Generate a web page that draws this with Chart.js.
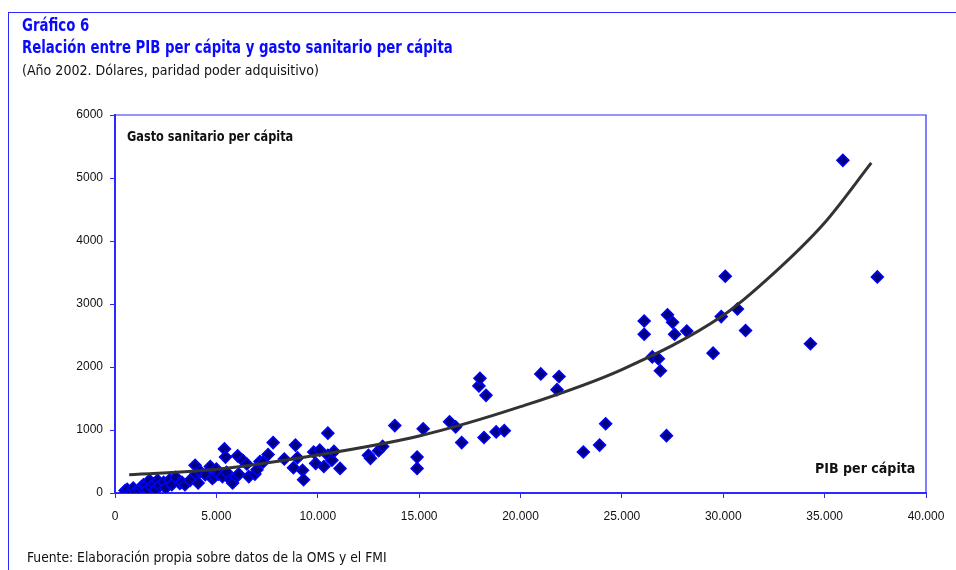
<!DOCTYPE html>
<html>
<head>
<meta charset="utf-8">
<script src="https://cdn.jsdelivr.net/npm/chart.js@4.4.1/dist/chart.umd.min.js"></script>
<style>
  html, body { margin: 0; padding: 0; background: #fff; }
  #wrap { position: relative; width: 956px; height: 570px; overflow: hidden; }
  #frameTop { position: absolute; left: 8px; top: 12px; width: 948px; height: 0; border-top: 1.5px solid #2a2aff; }
  #frameLeft { position: absolute; left: 8px; top: 12px; width: 0; height: 558px; border-left: 1.5px solid #2a2aff; }
  .t { position: absolute; white-space: nowrap; font-family: "Liberation Sans Narrow", "DejaVu Sans Condensed", sans-serif; transform-origin: 0 0; }
  #t1 { left: 22px; top: 15px; font-size: 17px; font-weight: bold; color: #0a0aff; transform: scaleX(0.87); }
  #t2 { left: 22px; top: 37px; font-size: 17px; font-weight: bold; color: #0a0aff; transform: scaleX(0.87); }
  #t3 { left: 22px; top: 62px; font-size: 14.5px; color: #111; transform: scaleX(0.97); }
  #ylab { left: 127px; top: 128px; font-size: 14px; font-weight: bold; color: #111; transform: scaleX(0.9); }
  #xlab { left: 815px; top: 460px; font-size: 14.5px; font-weight: bold; color: #111; transform: scaleX(0.97); }
  #src { left: 27px; top: 549px; font-size: 14px; color: #111; transform: scaleX(0.98); }
  canvas { position: absolute; left: 0; top: 0; }
</style>
</head>
<body>
<div id="wrap">
  <div id="frameTop"></div>
  <div id="frameLeft"></div>
  <canvas id="c" width="956" height="570"></canvas>
  <div class="t" id="t1">Gráfico 6</div>
  <div class="t" id="t2">Relación entre PIB per cápita y gasto sanitario per cápita</div>
  <div class="t" id="t3">(Año 2002. Dólares, paridad poder adquisitivo)</div>
  <div class="t" id="ylab">Gasto sanitario per cápita</div>
  <div class="t" id="xlab">PIB per cápita</div>
  <div class="t" id="src">Fuente: Elaboración propia sobre datos de la OMS y el FMI</div>
</div>
<script>
// PIB per cápita (USD PPA) of each country
const pibPerCapita = [
  500, 600, 800, 900, 1000, 1200, 1300, 1400, 1500, 1600,
  1700, 1800, 1900, 2000, 2100, 2200, 2400, 2500, 2700, 2800,
  3000, 3200, 3300, 3450, 3700, 3950, 4000, 4100, 4200, 4450,
  4700, 4800, 4900, 5000, 5100, 5300, 5400, 5450, 5500, 5700,
  5800, 6000, 6050, 6100, 6300, 6500, 6600, 6900, 7000, 7150,
  7300, 7550, 7800, 8350, 8800, 8900, 9000, 9250, 9300, 9800,
  9900, 10100, 10300, 10500, 10500, 10700, 10800, 11100,
  12500, 12600, 13000, 13200, 13800, 14900, 14900, 15200, 16500, 16800,
  17100, 17950, 18000, 18300, 18200, 18800, 19200, 21000, 21800, 21900,
  23100, 23900, 24200, 26100, 26100, 26500, 26800, 26900, 27200, 27250,
  27500, 27600, 28200, 29500, 29900, 30100, 30700, 31100, 34300, 35900,
  37600
];
// Gasto sanitario per cápita (USD PPA) of each country
const gastoPerCapita = [
  40, 60, 30, 80, 20, 50, 100, 130, 120, 60,
  200, 90, 140, 60, 200, 110, 170, 80, 210, 130,
  250, 150, 170, 130, 200, 440, 300, 160, 340, 290,
  420, 230, 260, 380, 300, 260, 700, 570, 330, 210,
  160, 260, 590, 300, 520, 460, 260, 300, 370, 500,
  490, 610, 800, 540, 400, 760, 560, 360, 210, 650,
  470, 680, 420, 950, 600, 520, 660, 390,
  600, 550, 670, 740, 1070, 570, 390, 1020, 1130, 1050,
  800, 1700, 1820, 1550, 880, 970, 990, 1890, 1640, 1850,
  650, 760, 1100, 2730, 2520, 2160, 2130, 1940, 910, 2830,
  2710, 2520, 2570, 2220, 2800, 3440, 2920, 2580, 2370, 5280,
  3430
];
// Trend curve
const trendX = [700, 5000, 10000, 15000, 20000, 25000, 30000, 32500, 35000, 37300];
const trendY = [290, 376, 603, 905, 1370, 1960, 2820, 3490, 4290, 5240];

const xTickValues = [0, 5000, 10000, 15000, 20000, 25000, 30000, 35000, 40000];
const xTickLabels = ["0", "5.000", "10.000", "15.000", "20.000", "25.000", "30.000", "35.000", "40.000"];
const yTickValues = [0, 1000, 2000, 3000, 4000, 5000, 6000];

const points = pibPerCapita.map((x, i) => ({ x: x, y: gastoPerCapita[i] }));
const trend = trendX.map((x, i) => ({ x: x, y: trendY[i] }));

const AXIS_BLUE = '#2a2aff';

const framePlugin = {
  id: 'frame',
  beforeDatasetsDraw(chart) {
    const a = chart.chartArea, ctx = chart.ctx;
    ctx.save();
    ctx.strokeStyle = AXIS_BLUE;
    ctx.lineWidth = 1.2;
    ctx.beginPath();
    ctx.moveTo(a.left, a.top);
    ctx.lineTo(a.right, a.top);
    ctx.lineTo(a.right, a.bottom);
    ctx.stroke();
    ctx.restore();
  }
};

new Chart(document.getElementById('c'), {
  type: 'scatter',
  data: {
    datasets: [
      {
        type: 'line',
        data: trend,
        borderColor: '#333333',
        borderWidth: 3,
        pointRadius: 0,
        fill: false,
        cubicInterpolationMode: 'monotone',
        order: 0
      },
      {
        data: points,
        pointStyle: 'rectRot',
        pointRadius: 6,
        backgroundColor: '#000080',
        borderColor: '#0000ff',
        borderWidth: 1.5,
        order: 1
      }
    ]
  },
  options: {
    responsive: false,
    animation: false,
    events: [],
    layout: { padding: { left: 0, top: 115, right: 30, bottom: 37 } },
    plugins: { legend: { display: false }, tooltip: { enabled: false } },
    scales: {
      x: {
        type: 'linear',
        min: 0, max: 40000,
        afterFit(s) { s.height = 40; },
        afterBuildTicks(s) { s.ticks = xTickValues.map(v => ({ value: v })); },
        ticks: {
          color: '#111',
          padding: 11,
          font: { family: '"Liberation Sans", Arial, sans-serif', size: 12 },
          maxRotation: 0,
          callback: (v) => xTickLabels[xTickValues.indexOf(v)]
        },
        grid: { display: true, drawOnChartArea: false, drawTicks: true, tickLength: 5, color: AXIS_BLUE, lineWidth: 1 },
        border: { display: true, color: AXIS_BLUE, width: 2 }
      },
      y: {
        type: 'linear',
        min: 0, max: 6000,
        afterFit(s) { s.width = 115; },
        afterBuildTicks(s) { s.ticks = yTickValues.map(v => ({ value: v })); },
        ticks: {
          color: '#111',
          padding: 7,
          font: { family: '"Liberation Sans", Arial, sans-serif', size: 12 },
          callback: (v) => String(v)
        },
        grid: { display: true, drawOnChartArea: false, drawTicks: true, tickLength: 5, color: AXIS_BLUE, lineWidth: 1 },
        border: { display: true, color: AXIS_BLUE, width: 2 }
      }
    }
  },
  plugins: [framePlugin]
});
</script>
</body>
</html>
